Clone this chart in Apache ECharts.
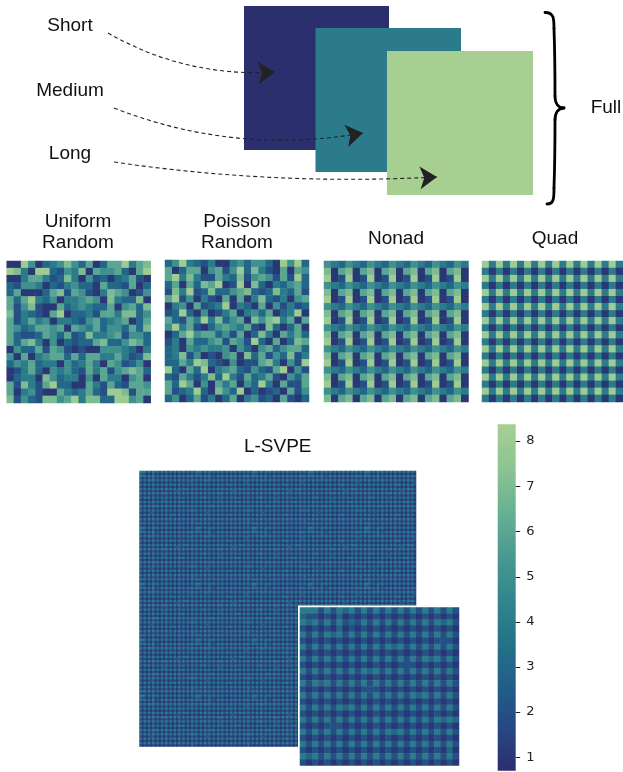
<!DOCTYPE html>
<html><head><meta charset="utf-8">
<script src="https://cdn.jsdelivr.net/npm/echarts@6/dist/echarts.min.js"></script>
<style>html,body{margin:0;padding:0;background:#fff}#c{width:623px;height:772px}</style>
</head><body><div id="c"></div>
<script>
// ---------------- data ----------------
const colorMin = 0.7, colorMax = 8.37;
const colorbarTicks = [1, 2, 3, 4, 5, 6, 7, 8];
const crestColors = ['#2c2f6e','#264884','#215f88','#257388','#34868d','#4a9a91','#68b192','#8cc493','#a7cf92'];
const panelTitles = ['Uniform\nRandom', 'Poisson\nRandom', 'Nonad', 'Quad'];
const lsvpeTitle = 'L-SVPE';
const diagramLabels = ['Short', 'Medium', 'Long'];
const braceLabel = 'Full';
const diagramLevels = [0.7, 4, 8.37];

const uniformRows = [
"11851345753613668467",
"87418832547165563168",
"11466423741523134621",
"32554132453316332613",
"36111367265214765125",
"63684351445651743371",
"62572116345433615637",
"72432168133426647735",
"62464514432563456136",
"65346656165463553637",
"63223653623744562553",
"63674151323367335763",
"15336265212115554314",
"51614566363664464237",
"35463441534641652351",
"12463154532646256763",
"13441753441516441561",
"62742683311642632665",
"61452116434632887266",
"72532775684773388561"];

const poissonRows = [
"35843241145355318583",
"61366156258374216165",
"68474226437256526283",
"36163768128173143563",
"27482373356732374362",
"68251421616147324156",
"14516234814316152423",
"23831512461453613481",
"63264847356175784616",
"58462135654621731361",
"13685663526137416463",
"24163356265283161376",
"34154544515315635663",
"34725121561736253724",
"33648732151226741528",
"83163814563253268152",
"32642473842634621536",
"63861516461538416226",
"62348317538131231625",
"35136241361452316213"];

const nonadRows = [
"54354354354354354354","71671671671671671671","81281281281281281281",
"54354354354354354354","71671671671671671671","81281281281281281281",
"54354354354354354354","71671671671671671671","81281281281281281281",
"54354354354354354354","71671671671671671671","81281281281281281281",
"54354354354354354354","71671671671671671671","81281281281281281281",
"54354354354354354354","71671671671671671671","81281281281281281281",
"54354354354354354354","71671671671671671671"];

const quadRows = [
"84848484848484848484","41414141414141414141","84848484848484848484","41414141414141414141",
"84848484848484848484","41414141414141414141","84848484848484848484","41414141414141414141",
"84848484848484848484","41414141414141414141","84848484848484848484","41414141414141414141",
"84848484848484848484","41414141414141414141","84848484848484848484","41414141414141414141",
"84848484848484848484","41414141414141414141","84848484848484848484","41414141414141414141"];

// magnified block of the learned pattern (inset)
const insetRows = [
"44424243424242424242424242",
"32212131212121212121212121",
"43424242324242424242424342",
"21212131212121212121212121",
"42424342424242424242424242",
"21212121212121212121212221",
"42424242424242434242424242",
"21212121212121212121212121",
"42424242424242424242434242",
"21212121212121212221212121",
"42424242424342424242424242",
"21212121212121212121212121",
"42434242424242424242424242",
"21212121212221212121212121",
"42424242424242424243424242",
"21212121212121212121212121",
"42424243424242424242424242",
"21212121212121212121212121",
"42424242424242424242424343",
"21212221212121212121212121",
"42424242424242434242424242",
"21212121212121212121212121",
"42424242424242424242424242",
"21212121212121212121212131",
"43424242424242424242424242",
"21212121212121212121212121"];
const lsvpeSize = 128;

// ---------------- layout ----------------
const FONT = '"Liberation Sans", Arial, Helvetica, sans-serif';
const panelGrids = [
  {left: 6.7, top: 261, width: 144, height: 142},
  {left: 165, top: 260, width: 144, height: 142},
  {left: 324, top: 261, width: 144.5, height: 141},
  {left: 482, top: 261, width: 144, height: 141}
];
const mainGrid = {left: 139.5, top: 471, width: 276.5, height: 275.5};
const insetGrid = {left: 300, top: 607.5, width: 159, height: 158};
const cbarGrid = {left: 497.7, top: 424.3, width: 18, height: 346.5};
const diagramGrid = {left: 0, top: 0, width: 623, height: 205};
const diagramBoxes = [[244, 6, 389, 150], [315.5, 28, 461, 172], [387, 51, 533, 195]];
const arrowPaths = [
  {from: [108, 33], to: [275, 72], curve: -0.15},
  {from: [114, 108], to: [363, 133], curve: -0.14},
  {from: [114, 162], to: [437, 177], curve: -0.05}
];
const labelPos = [[70, 25.5], [70, 90.5], [70, 154]];

// ---------------- build ----------------
function toCells(rows) {
  const out = [];
  rows.forEach((row, r) => { for (let c = 0; c < row.length; c++) out.push([c, r, Number(row[c])]); });
  return out;
}
function tileRows(rows, n) {
  const out = [];
  for (let r = 0; r < n; r++) {
    const src = rows[r % rows.length]; let s = '';
    while (s.length < n) s += src;
    out.push(s.slice(0, n));
  }
  return out;
}
const idx = n => Array.from({length: n}, (_, i) => i);

const grids = [diagramGrid, ...panelGrids, mainGrid, insetGrid, cbarGrid];
const xAxes = [], yAxes = [], series = [];
xAxes.push({gridIndex: 0, type: 'value', min: 0, max: 623, show: false});
yAxes.push({gridIndex: 0, type: 'value', min: 0, max: 205, inverse: true, show: false});

const heatSets = [uniformRows, poissonRows, nonadRows, quadRows, tileRows(insetRows, lsvpeSize), insetRows];
const heatSeriesIdx = [];
heatSets.forEach((rows, k) => {
  const g = k + 1;
  const nx = rows[0].length, ny = rows.length;
  xAxes.push({gridIndex: g, type: 'category', data: idx(nx), show: false});
  yAxes.push({gridIndex: g, type: 'category', data: idx(ny), inverse: true, show: false});
  heatSeriesIdx.push(series.length);
  series.push({
    type: 'heatmap', xAxisIndex: g, yAxisIndex: g, data: toCells(rows),
    progressive: 0, silent: true, itemStyle: {borderWidth: 0}, emphasis: {disabled: true},
    z: k === 5 ? 5 : 2
  });
});
xAxes.push({gridIndex: 7, type: 'value', min: 0, max: 1, show: false});
yAxes.push({
  gridIndex: 7, type: 'value', min: colorMin, max: colorMax, position: 'right',
  axisLine: {show: false}, splitLine: {show: false}, axisTick: {show: false},
  axisLabel: {show: true, fontSize: 13, color: '#222', margin: 10.5, fontFamily: 'DejaVu Sans', customValues: colorbarTicks}
});
series.push({
  type: 'custom', xAxisIndex: 7, yAxisIndex: 7, silent: true,
  data: [[0, colorMin, 1, colorMax]],
  renderItem(params, api) {
    const a = api.coord([api.value(0), api.value(3)]);
    const b = api.coord([api.value(2), api.value(1)]);
    const stops = crestColors.slice().reverse().map((c, i, arr) => ({offset: i / (arr.length - 1), color: c}));
    return {type: 'rect', shape: {x: a[0], y: a[1], width: b[0] - a[0], height: b[1] - a[1]},
      style: {fill: new echarts.graphic.LinearGradient(0, 0, 0, 1, stops)}};
  }
});
// colorbar tick marks
series.push({
  type: 'custom', xAxisIndex: 7, yAxisIndex: 7, silent: true,
  data: colorbarTicks.map(v => [1, v]),
  renderItem(params, api) {
    const p = api.coord([api.value(0), api.value(1)]);
    const y = Math.round(p[1]) + 0.5;
    return {type: 'line', shape: {x1: p[0], y1: y, x2: p[0] + 4.5, y2: y}, style: {stroke: '#222', lineWidth: 1}};
  }, z: 3
});
const boxSeriesIdx = series.length;
series.push({
  type: 'custom', xAxisIndex: 0, yAxisIndex: 0, silent: true,
  data: diagramBoxes.map((b, i) => [...b, diagramLevels[i]]),
  encode: {x: [0, 2], y: [1, 3]},
  renderItem(params, api) {
    const p0 = api.coord([api.value(0), api.value(1)]);
    const p1 = api.coord([api.value(2), api.value(3)]);
    return {type: 'rect', shape: {x: p0[0], y: p0[1], width: p1[0] - p0[0], height: p1[1] - p0[1]},
      style: {fill: api.visual('color')}};
  }, z: 2
});
series.push({
  type: 'lines', coordinateSystem: 'cartesian2d', xAxisIndex: 0, yAxisIndex: 0, silent: true,
  symbol: ['none', 'arrow'], symbolSize: [11, 17],
  lineStyle: {color: '#222', width: 1.1, type: [4, 3], opacity: 1},
  data: arrowPaths.map(a => ({coords: [a.from, a.to], lineStyle: {curveness: a.curve}})),
  z: 5
});
series.push({
  type: 'custom', xAxisIndex: 0, yAxisIndex: 0, silent: true,
  data: [[545, 12.5, 204, 108]],
  renderItem(params, api) {
    const x0 = api.value(0), y0 = api.value(1), y1 = api.value(2), ym = api.value(3);
    const P = (x, y) => api.coord([x, y]);
    const xa = x0 + 9, xt = x0 + 19;
    const st = {stroke: '#000', lineWidth: 2.8, fill: 'none', lineCap: 'round'};
    const bz = (p1, c1, c2, p2) => {
      const a = P(...p1), b = P(...c1), c = P(...c2), d = P(...p2);
      return {type: 'bezierCurve', shape: {x1: a[0], y1: a[1], cpx1: b[0], cpy1: b[1], cpx2: c[0], cpy2: c[1], x2: d[0], y2: d[1]}, style: st};
    };
    return {type: 'group', children: [
      bz([x0, y0], [xa, y0], [xa, y0 + 6], [xa, y0 + 16]),
      bz([xa, y0 + 16], [xa + 1, y0 + 45], [xa + 1, ym - 40], [xa + 1, ym - 12]),
      bz([xa + 1, ym - 12], [xa + 1, ym - 4], [xt - 5, ym], [xt, ym]),
      bz([xt, ym], [xt - 5, ym], [xa + 1, ym + 4], [xa + 1, ym + 12]),
      bz([xa + 1, ym + 12], [xa + 1, ym + 40], [xa + 1, y1 - 45], [xa, y1 - 16]),
      bz([xa, y1 - 16], [xa, y1 - 6], [xa, y1], [x0 + 2, y1])
    ]};
  }, z: 5
});

const txt = (text, x, y, extra) => Object.assign({type: 'text', x, y, silent: true,
  style: {text, fill: '#111', font: '19px ' + FONT, textAlign: 'center', textVerticalAlign: 'middle', lineHeight: 21}}, extra || {});
const graphics = [];
diagramLabels.forEach((t, i) => graphics.push(txt(t, labelPos[i][0], labelPos[i][1])));
graphics.push(txt(braceLabel, 606, 107.5));
const titleCenters = [[78, 232.5], [237, 232.5], [396, 238.5], [555, 238.5]];
panelTitles.forEach((t, i) => graphics.push(txt(t, titleCenters[i][0], titleCenters[i][1])));
graphics.push(txt(lsvpeTitle, 277.7, 447));
graphics.push({type: 'rect', shape: {x: 298, y: 605.5, width: 163, height: 162}, style: {fill: '#fff'}, z: 3, silent: true});

const chart = echarts.init(document.getElementById('c'), null, {renderer: 'canvas'});
chart.setOption({
  animation: false,
  backgroundColor: '#fff',
  grid: grids.map(g => Object.assign({containLabel: false}, g)),
  xAxis: xAxes, yAxis: yAxes,
  visualMap: [
    {type: 'continuous', show: false, min: colorMin, max: colorMax, dimension: 2, seriesIndex: heatSeriesIdx, inRange: {color: crestColors}},
    {type: 'continuous', show: false, min: colorMin, max: colorMax, dimension: 4, seriesIndex: [boxSeriesIdx], inRange: {color: crestColors}}
  ],
  graphic: graphics,
  series
});
</script></body></html>
